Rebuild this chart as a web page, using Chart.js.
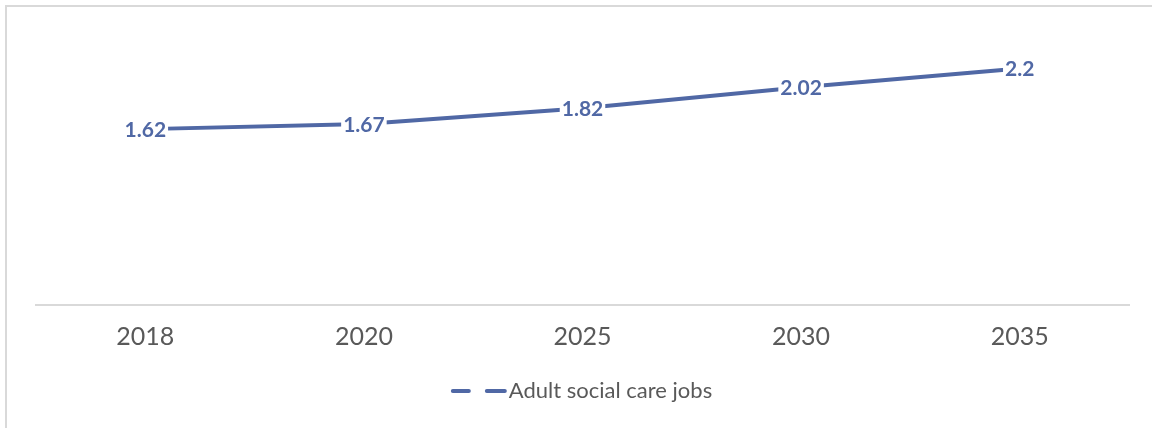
<!DOCTYPE html>
<html>
<head>
<meta charset="utf-8">
<script src="https://cdn.jsdelivr.net/npm/chart.js@4"></script>
<style>
  body { margin: 0; background: #fff; }
  #wrap { position: relative; width: 1152px; height: 428px; overflow: hidden; }
  #frame { position: absolute; left: 5px; top: 5px; width: 1300px; height: 600px; border: 2px solid #d9d9d9; }
  #myLineChart { position: absolute; left: 0; top: 0; }
</style>
</head>
<body>
<div id="wrap">
  <div id="frame"></div>
  <canvas id="myLineChart" width="1152" height="428"></canvas>
</div>
<script>
// ========================= Adult social care jobs (millions) =========================
const years = ["2018", "2020", "2025", "2030", "2035"];
const jobs = [1.62, 1.67, 1.82, 2.02, 2.2];
const seriesName = "Adult social care jobs";

const lineColor = "#5068a5";
const textColor = "#595959";
const fontFamily = "Lato, 'Open Sans', sans-serif";

// labels drawn on the points, with a white box behind them
const pointLabels = {
  id: "pointLabels",
  afterDatasetsDraw(chart) {
    const ctx = chart.ctx;
    const meta = chart.getDatasetMeta(0);
    ctx.save();
    ctx.font = "bold 21px " + fontFamily;
    ctx.textAlign = "center";
    ctx.textBaseline = "middle";
    meta.data.forEach(function (pt, i) {
      const txt = String(chart.data.datasets[0].data[i]);
      const w = ctx.measureText(txt).width;
      ctx.fillStyle = "#fff";
      ctx.fillRect(pt.x - w / 2 - 2, pt.y - 11, w + 4, 22);
      ctx.fillStyle = lineColor;
      ctx.fillText(txt, pt.x, pt.y + 1);
    });
    ctx.restore();
  },
};

// legend at the bottom with a dashed line key
const dashLegend = {
  id: "dashLegend",
  afterDraw(chart) {
    const ctx = chart.ctx;
    const label = chart.data.datasets[0].label;
    ctx.save();
    ctx.font = "22px " + fontFamily;
    const tw = ctx.measureText(label).width;
    const keyW = 56;
    const total = keyW + 4 + tw;
    const x0 = (chart.chartArea.left + chart.chartArea.right) / 2 - total / 2;
    const y = 391;
    ctx.strokeStyle = lineColor;
    ctx.lineWidth = 4;
    ctx.lineCap = "round";
    ctx.beginPath();
    ctx.moveTo(x0 + 2, y);
    ctx.lineTo(x0 + 18, y);
    ctx.moveTo(x0 + 36, y);
    ctx.lineTo(x0 + 54, y);
    ctx.stroke();
    ctx.fillStyle = textColor;
    ctx.textAlign = "left";
    ctx.textBaseline = "middle";
    ctx.fillText(label, x0 + keyW + 2, y);
    ctx.restore();
  },
};

function renderLineChart(labels, data) {
  var ctx = document.getElementById("myLineChart").getContext("2d");

  new Chart(ctx, {
    type: "line",
    data: {
      labels: labels,
      datasets: [
        {
          label: seriesName,
          data: data,
          borderColor: lineColor,
          backgroundColor: lineColor,
          borderWidth: 4,
          pointRadius: 0,
          tension: 0,
        },
      ],
    },
    options: {
      responsive: false,
      animation: false,
      layout: {
        padding: { left: 36, right: 23, top: 37, bottom: 59 },
      },
      scales: {
        x: {
          offset: true,
          grid: { display: false, drawTicks: false },
          border: { display: true, color: "#d9d9d9", width: 2 },
          ticks: {
            padding: 17,
            color: textColor,
            font: { family: fontFamily, size: 25 },
          },
        },
        y: {
          display: false,
          min: -0.06,
          max: 2.5,
        },
      },
      plugins: {
        legend: { display: false },
        tooltip: { enabled: false },
      },
    },
    plugins: [pointLabels, dashLegend],
  });
}

renderLineChart(years, jobs);
</script>
</body>
</html>
